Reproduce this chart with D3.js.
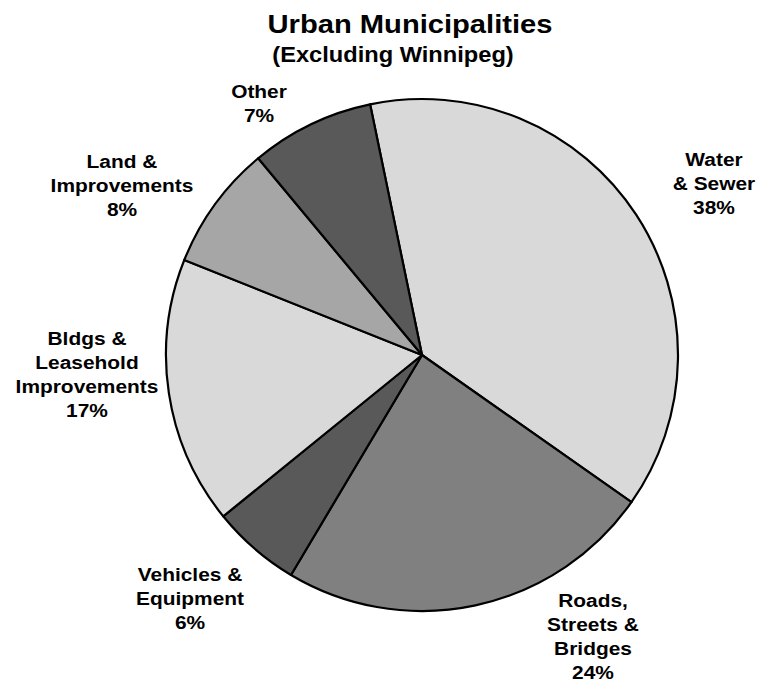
<!DOCTYPE html>
<html>
<head>
<meta charset="utf-8">
<script src="https://cdn.jsdelivr.net/npm/d3@7"></script>
<style>
  body { margin: 0; background: #fff; }
  text { font-family: "Liberation Sans", Arial, sans-serif; font-weight: bold; fill: #000; }
</style>
</head>
<body>
<script>
// Dati della torta (percentuali)
var categories = ["Water & Sewer", "Roads, Streets & Bridges", "Vehicles & Equipment",
                  "Bldgs & Leasehold Improvements", "Land & Improvements", "Other"];
var values = [38.0, 23.8, 5.6, 16.9, 7.9, 7.8];
var pctLabels = ["38%", "24%", "6%", "17%", "8%", "7%"];
// righe delle etichette
var labelLines = [
  ["Water", "& Sewer"],
  ["Roads,", "Streets &", "Bridges"],
  ["Vehicles &", "Equipment"],
  ["Bldgs &", "Leasehold", "Improvements"],
  ["Land &", "Improvements"],
  ["Other"]
];

var colour = ["#d9d9d9", "#808080", "#595959", "#d9d9d9", "#a6a6a6", "#595959"];

var totalWidth = 760, totalHeight = 682;
var cx = 422, cy = 355, radius = 256;
var startDeg = -11.7;   // la prima fetta parte poco a sinistra delle 12
var lineH = 24;
var stretch = 1.1;      // il font originale è un po' più largo

// posizione (centro x, baseline della prima riga) di ogni etichetta
var labelPos = [[714, 166], [593, 607], [190, 581], [87, 345], [122, 168], [259, 98]];

var svg = d3.select("body").append("svg")
  .attr("width", totalWidth)
  .attr("height", totalHeight);

// titolo
function stretchedText(x, y, size, str) {
  svg.append("text")
    .attr("transform", "translate(" + x + "," + y + ") scale(" + stretch + ",1)")
    .attr("font-size", size + "px")
    .style("text-anchor", "middle")
    .text(str);
}
stretchedText(410, 33, 26.5, "Urban Municipalities");
stretchedText(393, 62, 21.5, "(Excluding Winnipeg)");

var start = startDeg * Math.PI / 180;
var pie = d3.pie().sort(null).value(function(d) { return d; })
  .startAngle(start).endAngle(start + 2 * Math.PI);
var arc = d3.arc().innerRadius(0).outerRadius(radius);

var g = svg.append("g").attr("transform", "translate(" + cx + "," + cy + ")");

g.selectAll(".slice").data(pie(values)).enter().append("path")
  .attr("class", "slice")
  .attr("d", arc)
  .attr("fill", function(d, i) { return colour[i]; })
  .attr("stroke", "#000")
  .attr("stroke-width", 2.2)
  .attr("stroke-linejoin", "round");

// etichette
categories.forEach(function(c, i) {
  var lines = labelLines[i].concat([pctLabels[i]]);
  lines.forEach(function(l, k) {
    stretchedText(labelPos[i][0], labelPos[i][1] + k * lineH, 19, l);
  });
});
</script>
</body>
</html>
